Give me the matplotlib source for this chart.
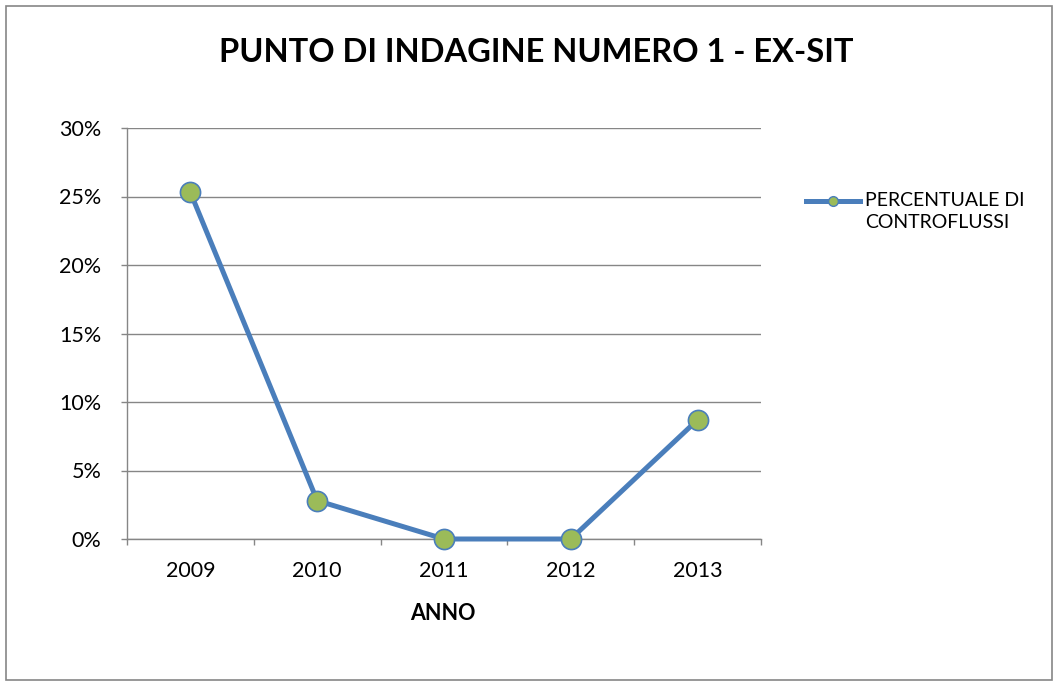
import matplotlib
matplotlib.use("Agg")
import matplotlib.pyplot as plt
from matplotlib.patches import Rectangle
from matplotlib.lines import Line2D
from matplotlib.ticker import FuncFormatter, FixedLocator

years = ["2009", "2010", "2011", "2012", "2013"]
values = [25.3, 2.8, 0.0, 0.0, 8.7]
series_name = "PERCENTUALE DI\nCONTROFLUSSI"
title = "PUNTO DI INDAGINE NUMERO 1 - EX-SIT"
xlabel = "ANNO"

plt.rcParams['font.family'] = ['Lato', 'DejaVu Sans']

W, H = 1058, 686
fig = plt.figure(figsize=(W/100, H/100), dpi=100)
fig.patches.append(Rectangle((6/W, 6/H), (1052-6)/W, (680-6)/H, transform=fig.transFigure,
                             fill=False, edgecolor='#868686', linewidth=1.2))

ax = fig.add_axes([127/W, 1-539/H, (761-127)/W, (539-128)/H])
x = list(range(len(years)))
ax.plot(x, values, color='#4A7EBB', linewidth=3.6, marker='o', markersize=14.5,
        markerfacecolor='#9BBB59', markeredgecolor='#4A7EBB', markeredgewidth=1.2,
        solid_capstyle='round', clip_on=False, zorder=3)

ax.set_xlim(-0.5, len(years)-0.5)
ax.set_ylim(0, 30)
ax.set_yticks([0, 5, 10, 15, 20, 25, 30])
ax.yaxis.set_major_formatter(FuncFormatter(lambda v, p: f"{int(v)}%"))
ax.set_xticks(x)
ax.set_xticklabels(years)
ax.xaxis.set_minor_locator(FixedLocator([i - 0.5 for i in range(len(years)+1)]))
ax.tick_params(axis='x', which='major', length=0, labelsize=15.5, pad=16, colors='black')
ax.tick_params(axis='x', which='minor', length=4.5, color='#868686', width=1)
ax.tick_params(axis='y', length=4.5, color='#868686', width=1, labelsize=15.5, pad=14)

ax.grid(axis='y', color='#868686', linewidth=1)
ax.set_axisbelow(True)
for s in ['top', 'right']:
    ax.spines[s].set_visible(False)
for s in ['left', 'bottom']:
    ax.spines[s].set_color('#868686')
    ax.spines[s].set_linewidth(1)

fig.text(443/W, 1-614/H, xlabel, ha='center', va='center', fontsize=15.5, fontweight='bold')
fig.text(536/W, 1-52/H, title, ha='center', va='center', fontsize=23.5, fontweight='bold')

# legend
ly = 1-201/H
fig.add_artist(Line2D([806/W, 860/W], [ly, ly], color='#4A7EBB', linewidth=3.6,
                      transform=fig.transFigure))
fig.add_artist(Line2D([833/W], [ly], marker='o', markersize=7, markerfacecolor='#9BBB59',
                      markeredgecolor='#4A7EBB', markeredgewidth=1, transform=fig.transFigure))
fig.text(865/W, 1-201/H, "PERCENTUALE DI", ha='left', va='center', fontsize=14)
fig.text(865/W, 1-223/H, "CONTROFLUSSI", ha='left', va='center', fontsize=14)

fig.savefig("out.png", dpi=100)
